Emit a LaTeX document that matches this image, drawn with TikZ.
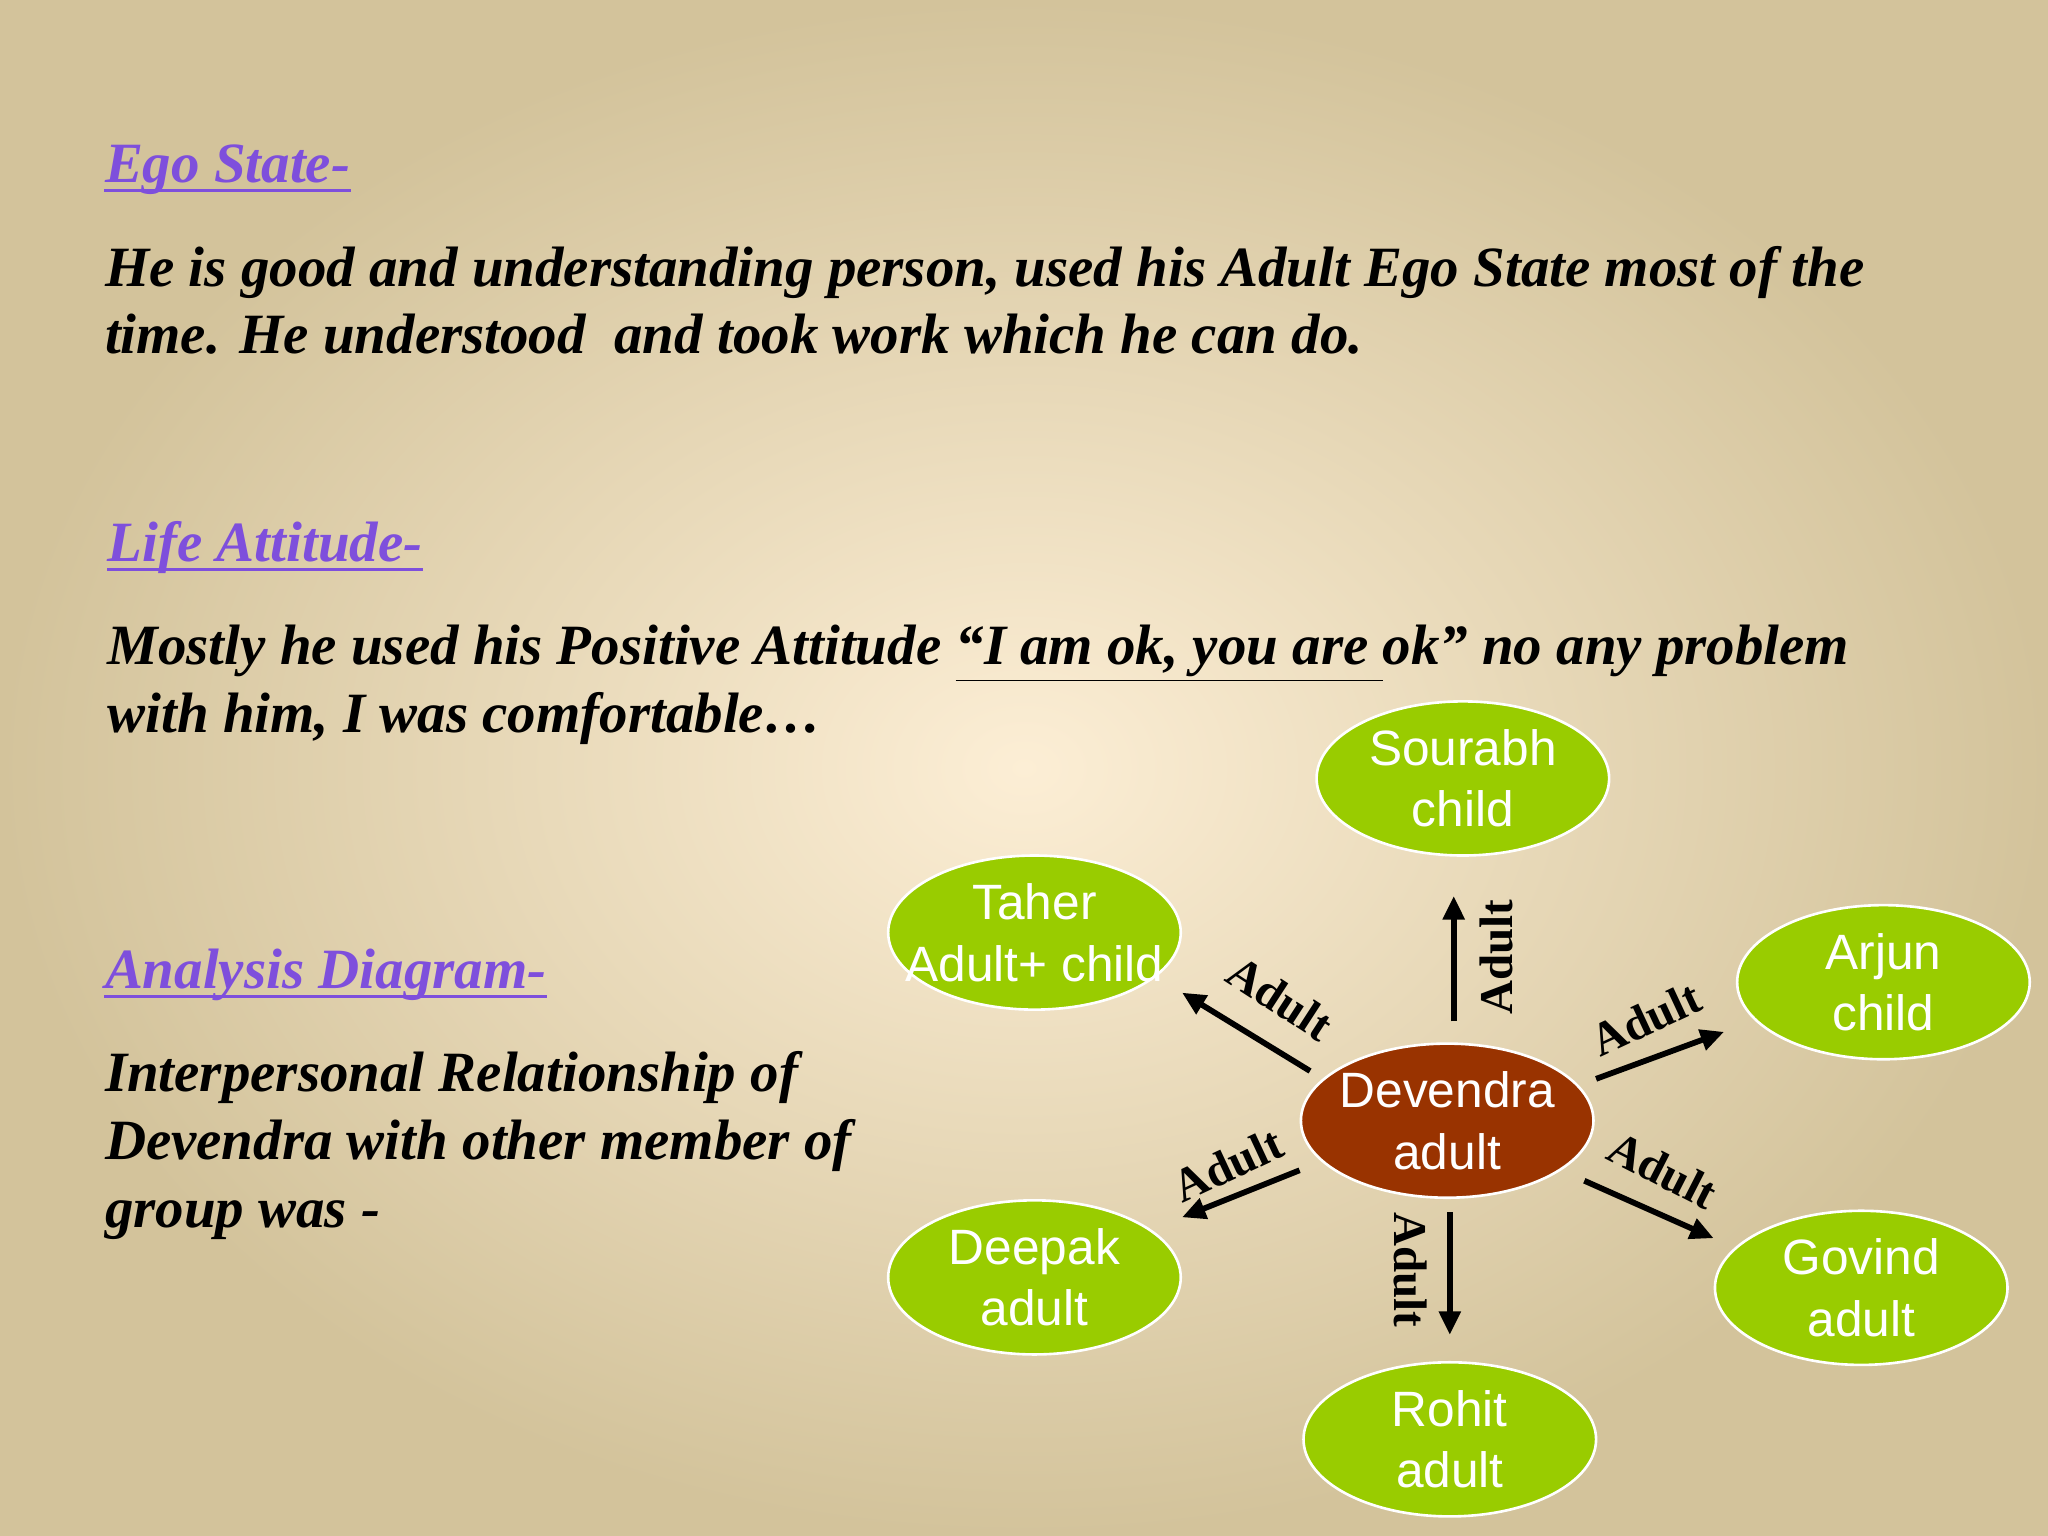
\documentclass[tikz,border=0pt]{standalone}
\usepackage{fontspec}
\setmainfont{Liberation Serif}
\newfontfamily\sansf{Liberation Sans}
\usetikzlibrary{arrows.meta,shapes.geometric}
\definecolor{bgin}{HTML}{FCEED5}
\definecolor{bgout}{HTML}{D3C39B}
\definecolor{ggreen}{HTML}{99CC00}
\definecolor{dred}{HTML}{993300}
\definecolor{headc}{HTML}{7E4FDC}
\tikzset{
 txt/.style={anchor=base west,inner sep=0pt,font=\fontsize{21.8}{26}\selectfont\bfseries\itshape},
 head/.style={txt,text=headc},
 hl/.style={headc,line width=1.2pt},
 ell/.style={ellipse,draw=white,line width=1pt,fill=ggreen,minimum width=112pt,minimum height=59pt,inner sep=0pt},
 etx/.style={text=white,align=center,inner sep=0pt,font=\sansf\fontsize{19}{23.5}\selectfont},
 arr/.style={line width=2.2pt,-{Triangle[length=9pt,width=8pt]}},
 lab/.style={font=\fontsize{18}{20}\selectfont\bfseries,inner sep=0pt}
}
\begin{document}
\begin{tikzpicture}[x=0.5pt,y=-0.5pt]
\useasboundingbox (0,0) rectangle (1568,1176);
\shade[inner color=bgin,outer color=bgout] (0,0) rectangle (1568,1176);
\node[head] (h1) at (80,140) {Ego State-};
\draw[hl] ([yshift=-3pt]h1.base west) -- ([yshift=-3pt]h1.base east);
\node[txt] (t1) at (80,219) {He is good and understanding person, used his Adult Ego State most of the};
\node[txt] (t2) at (80,271) {time. He understood\ \ and took work which he can do.};
\node[head] (h2) at (82,430) {Life Attitude-};
\draw[hl] ([yshift=-3pt]h2.base west) -- ([yshift=-3pt]h2.base east);
\node[txt] (t3) at (82,509) {Mostly he used his Positive Attitude \underline{“I am ok, you are }ok” no any problem};
\node[txt] (t4) at (82,561) {with him, I was comfortable…};
\node[head] (h3) at (80,757) {Analysis Diagram-};
\draw[hl] ([yshift=-3pt]h3.base west) -- ([yshift=-3pt]h3.base east);
\node[txt] (t5) at (80,836) {Interpersonal Relationship of};
\node[txt] (t6) at (80,888) {Devendra with other member of};
\node[txt] (t7) at (80,940) {group was -};
\node[ell] (sou) at (1120,596) {};
\node[ell] (tah) at (792,714) {};
\node[ell] (arj) at (1442,752) {};
\node[ell,fill=dred] (dev) at (1108,858) {};
\node[ell] (dee) at (792,978) {};
\node[ell] (gov) at (1425,986) {};
\node[ell] (roh) at (1110,1102) {};
\node[etx] (souT) at (sou) {Sourabh\\child};
\node[etx] (tahT) at (tah) {Taher\\Adult+ child};
\node[etx] (arjT) at (arj) {Arjun\\child};
\node[etx] (devT) at (dev) {Devendra\\adult};
\node[etx] (deeT) at (dee) {Deepak\\adult};
\node[etx] (govT) at (gov) {Govind\\adult};
\node[etx] (rohT) at (roh) {Rohit\\adult};
\coordinate (u1) at (1113,782); \coordinate (u2) at (1113,686);
\coordinate (a1) at (1003,820); \coordinate (a2) at (905,760);
\coordinate (b1) at (1222,826); \coordinate (b2) at (1320,790);
\coordinate (c1) at (995,896); \coordinate (c2) at (905,932);
\coordinate (d1) at (1213,904); \coordinate (d2) at (1312,948);
\coordinate (e1) at (1110,928); \coordinate (e2) at (1110,1022);
\draw[arr] (u1) -- (u2);
\draw[arr] (a1) -- (a2);
\draw[arr] (b1) -- (b2);
\draw[arr] (c1) -- (c2);
\draw[arr] (d1) -- (d2);
\draw[arr] (e1) -- (e2);
\node[lab,rotate=90] (l1) at (1146,733) {Adult};
\node[lab,rotate=-33] (l2) at (980,764) {Adult};
\node[lab,rotate=25] (l3) at (1260,780) {Adult};
\node[lab,rotate=25] (l4) at (940,892) {Adult};
\node[lab,rotate=-27] (l5) at (1273,896) {Adult};
\node[lab,rotate=-90] (l6) at (1080,972) {Adult};
\end{tikzpicture}
\end{document}
